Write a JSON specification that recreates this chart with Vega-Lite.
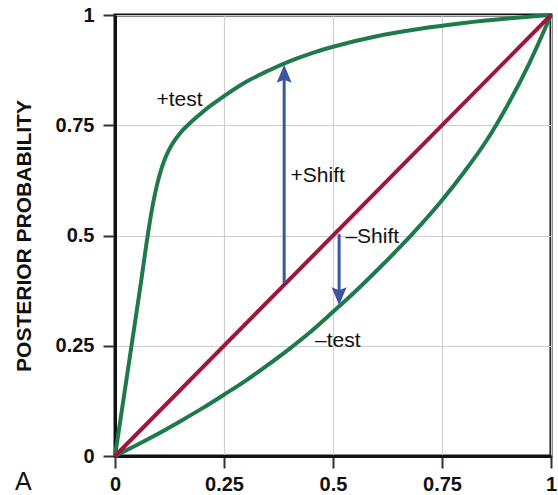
{
  "$schema": "https://vega.github.io/schema/vega-lite/v6.json",
  "autosize": {"type": "none"},
  "width": 436,
  "height": 441,
  "padding": {"left": 115, "top": 15, "right": 7, "bottom": 39},
  "background": "white",
  "config": {
    "view": {"stroke": "#111111", "strokeWidth": 3},
    "axis": {
      "domainColor": "#111111",
      "domainWidth": 3,
      "tickColor": "#333333",
      "tickWidth": 2,
      "tickSize": 12,
      "labelFont": "Liberation Sans",
      "labelFontWeight": "bold",
      "labelFontSize": 20,
      "labelColor": "#111111",
      "labelPadding": 9,
      "gridColor": "#cfcfcf",
      "gridWidth": 1.2,
      "titleFont": "Liberation Sans",
      "titleColor": "#111111"
    }
  },
  "datasets": {
    "curves": [
      {"series": "pos", "p": 0, "post": 0},
      {"series": "pos", "p": 0.01, "post": 0.066},
      {"series": "pos", "p": 0.02, "post": 0.132},
      {"series": "pos", "p": 0.03, "post": 0.198},
      {"series": "pos", "p": 0.04, "post": 0.264},
      {"series": "pos", "p": 0.05, "post": 0.33},
      {"series": "pos", "p": 0.06, "post": 0.397},
      {"series": "pos", "p": 0.075, "post": 0.5},
      {"series": "pos", "p": 0.084, "post": 0.555},
      {"series": "pos", "p": 0.093, "post": 0.6},
      {"series": "pos", "p": 0.103, "post": 0.64},
      {"series": "pos", "p": 0.115, "post": 0.675},
      {"series": "pos", "p": 0.13, "post": 0.705},
      {"series": "pos", "p": 0.15, "post": 0.733},
      {"series": "pos", "p": 0.172, "post": 0.755},
      {"series": "pos", "p": 0.195, "post": 0.775},
      {"series": "pos", "p": 0.22, "post": 0.795},
      {"series": "pos", "p": 0.25, "post": 0.816},
      {"series": "pos", "p": 0.3, "post": 0.848},
      {"series": "pos", "p": 0.35, "post": 0.873},
      {"series": "pos", "p": 0.4, "post": 0.895},
      {"series": "pos", "p": 0.45, "post": 0.913},
      {"series": "pos", "p": 0.5, "post": 0.928},
      {"series": "pos", "p": 0.6, "post": 0.952},
      {"series": "pos", "p": 0.7, "post": 0.969},
      {"series": "pos", "p": 0.8, "post": 0.982},
      {"series": "pos", "p": 0.9, "post": 0.992},
      {"series": "pos", "p": 1, "post": 1},
      {"series": "neg", "p": 0, "post": 0},
      {"series": "neg", "p": 0.05, "post": 0.025},
      {"series": "neg", "p": 0.1, "post": 0.051},
      {"series": "neg", "p": 0.15, "post": 0.079},
      {"series": "neg", "p": 0.2, "post": 0.108},
      {"series": "neg", "p": 0.25, "post": 0.139},
      {"series": "neg", "p": 0.3, "post": 0.171},
      {"series": "neg", "p": 0.35, "post": 0.206},
      {"series": "neg", "p": 0.4, "post": 0.243},
      {"series": "neg", "p": 0.45, "post": 0.283},
      {"series": "neg", "p": 0.5, "post": 0.327},
      {"series": "neg", "p": 0.55, "post": 0.372},
      {"series": "neg", "p": 0.6, "post": 0.42},
      {"series": "neg", "p": 0.65, "post": 0.47},
      {"series": "neg", "p": 0.7, "post": 0.523},
      {"series": "neg", "p": 0.75, "post": 0.58},
      {"series": "neg", "p": 0.8, "post": 0.643},
      {"series": "neg", "p": 0.85, "post": 0.712},
      {"series": "neg", "p": 0.9, "post": 0.795},
      {"series": "neg", "p": 0.95, "post": 0.89},
      {"series": "neg", "p": 1, "post": 1},
      {"series": "prior", "p": 0, "post": 0},
      {"series": "prior", "p": 1, "post": 1}
    ],
    "arrows": [
      {"name": "+Shift", "x": 0.388, "from": 0.392, "to": 0.86, "tip": 0.887, "dir": "up"},
      {"name": "-Shift", "x": 0.514, "from": 0.503, "to": 0.37, "tip": 0.342, "dir": "down"}
    ],
    "labels": [
      {"text": "+test", "x": 0.148, "y": 0.794, "size": "s"},
      {"text": "+Shift", "x": 0.465, "y": 0.622, "size": "s"},
      {"text": "–Shift", "x": 0.59, "y": 0.482, "size": "s"},
      {"text": "–test", "x": 0.511, "y": 0.248, "size": "s"},
      {"text": "A", "x": -0.21, "y": -0.076, "size": "l"}
    ]
  },
  "layer": [
    {
      "data": {"name": "curves"},
      "mark": {"type": "line", "strokeWidth": 4, "interpolate": "monotone"},
      "encoding": {
        "x": {
          "field": "p", "type": "quantitative",
          "scale": {"domain": [0, 1], "nice": false},
          "axis": {"values": [0, 0.25, 0.5, 0.75, 1], "format": ".2~f", "title": null, "labelFlush": false, "labelBound": false, "labelPadding": 6}
        },
        "y": {
          "field": "post", "type": "quantitative",
          "scale": {"domain": [0, 1], "nice": false},
          "axis": {
            "values": [0, 0.25, 0.5, 0.75, 1], "format": ".2~f",
            "title": "POSTERIOR PROBABILITY",
            "titleFontSize": 21, "titleFontWeight": "bold", "titlePadding": 21,
            "labelFlush": false, "labelBound": false
          }
        },
        "color": {
          "field": "series", "type": "nominal",
          "scale": {"domain": ["pos", "neg", "prior"], "range": ["#1f7a4b", "#1f7a4b", "#a0163a"]},
          "legend": null
        },
        "detail": {"field": "series"}
      }
    },
    {
      "data": {"name": "arrows"},
      "mark": {"type": "rule", "strokeWidth": 3, "color": "#3a55a6"},
      "encoding": {
        "x": {"field": "x", "type": "quantitative"},
        "y": {"field": "from", "type": "quantitative"},
        "y2": {"field": "to"}
      }
    },
    {
      "data": {"name": "arrows"},
      "mark": {"type": "point", "filled": true, "opacity": 1, "size": 225, "color": "#3a55a6", "strokeWidth": 0},
      "encoding": {
        "x": {"field": "x", "type": "quantitative"},
        "y": {"field": "tip", "type": "quantitative"},
        "shape": {
          "field": "dir", "type": "nominal",
          "scale": {"domain": ["up", "down"], "range": ["M0,0 L1,2.4 L0,2 L-1,2.4 Z", "M0,0 L1,-2.4 L0,-2 L-1,-2.4 Z"]},
          "legend": null
        }
      }
    },
    {
      "data": {"name": "labels"},
      "mark": {"type": "text", "font": "Liberation Sans", "align": "center", "baseline": "alphabetic", "color": "#111111"},
      "encoding": {
        "x": {"field": "x", "type": "quantitative"},
        "y": {"field": "y", "type": "quantitative"},
        "text": {"field": "text"},
        "size": {
          "field": "size", "type": "nominal",
          "scale": {"domain": ["s", "l"], "range": [21, 25]},
          "legend": null
        }
      }
    }
  ]
}
